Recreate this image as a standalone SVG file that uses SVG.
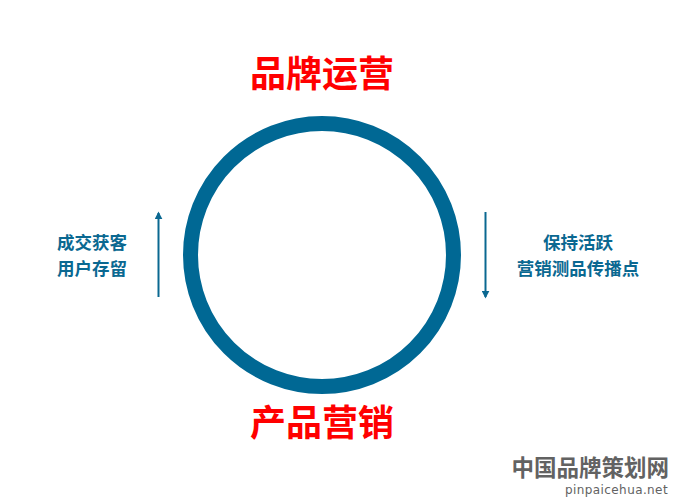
<svg xmlns="http://www.w3.org/2000/svg" width="684" height="499" viewBox="0 0 684 499">
<style>
.title{font-family:"Noto Sans CJK SC","Noto Sans",sans-serif;font-size:36px;font-weight:bold;fill:#ff0000;text-anchor:middle}
.label{font-family:"Noto Sans CJK SC","Noto Sans",sans-serif;font-size:17.5px;font-weight:bold;fill:#0a6891;text-anchor:middle}
.wm{font-family:"Noto Sans CJK SC",sans-serif;font-size:22.5px;font-weight:bold;fill:#626262;text-anchor:end}
.wm2{font-family:"DejaVu Sans",sans-serif;font-size:12px;fill:#626262;text-anchor:end;letter-spacing:0.4px}
.conn{stroke:#0a6891;stroke-width:2;fill:none}
</style>
<defs>
<marker id="ah" viewBox="0 0 10 10" refX="8" refY="5" markerWidth="4" markerHeight="4" orient="auto" markerUnits="strokeWidth">
<path d="M0,0 L10,5 L0,10 z" fill="#0a6891"/>
</marker>
</defs>
<rect width="684" height="499" fill="#ffffff"/>
<g id="cycle">
<circle cx="322" cy="255" r="131.5" fill="none" stroke="#006894" stroke-width="15"/>
</g>
<g id="node-top"><text class="title" x="322" y="87">品牌运营</text></g>
<g id="node-bottom"><text class="title" x="322" y="436">产品营销</text></g>
<g id="node-left">
<text class="label" x="92" y="249">成交获客</text>
<text class="label" x="92" y="275">用户存留</text>
</g>
<g id="node-right">
<text class="label" x="578" y="249">保持活跃</text>
<text class="label" x="578" y="275">营销测品传播点</text>
</g>
<g id="connectors">
<line class="conn" x1="158.5" y1="297" x2="158.5" y2="213" marker-end="url(#ah)"/>
<line class="conn" x1="485.5" y1="212" x2="485.5" y2="297" marker-end="url(#ah)"/>
</g>
<g id="watermark">
<text class="wm" x="669" y="476">中国品牌策划网</text>
<text class="wm2" x="668" y="494">pinpaicehua.net</text>
</g>
</svg>
